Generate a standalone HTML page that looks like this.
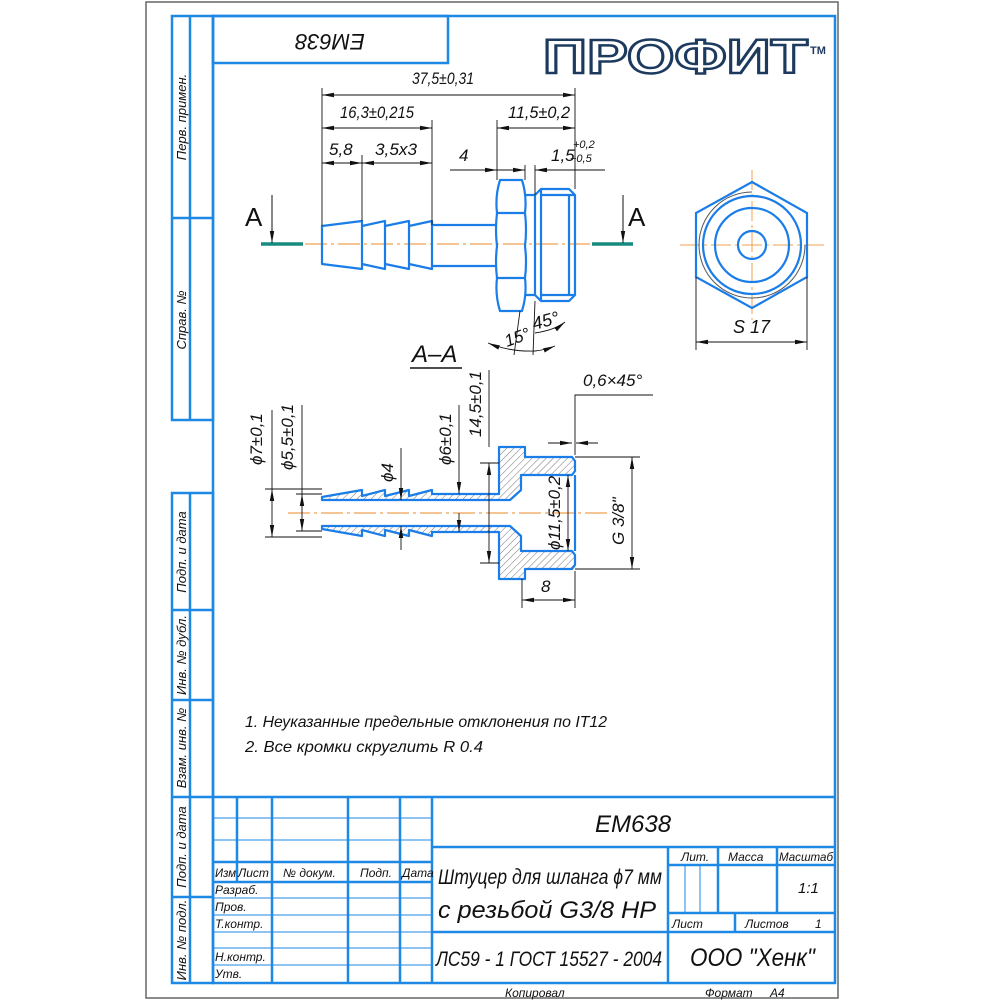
<!DOCTYPE html>
<html><head><meta charset="utf-8"><style>
html,body{margin:0;padding:0;background:#fff}
svg{display:block}
text{font-family:"Liberation Sans",sans-serif;font-style:italic;fill:#111}
</style></head><body>
<svg width="1000" height="1000" viewBox="0 0 1000 1000" xmlns="http://www.w3.org/2000/svg">
<defs>
<marker id="a" viewBox="0 0 12 6" refX="12" refY="3" markerWidth="12" markerHeight="6" orient="auto-start-reverse" markerUnits="userSpaceOnUse"><path d="M0,0.8 L12,3 L0,5.2z" fill="#111"/></marker>
<pattern id="h" patternUnits="userSpaceOnUse" width="5" height="5" patternTransform="rotate(45)"><line x1="0" y1="0" x2="0" y2="5" stroke="#666" stroke-width="0.9"/></pattern>
</defs>
<rect x="0" y="0" width="1000" height="1000" fill="#fff"/>
<rect x="146" y="2" width="692" height="996" fill="none" stroke="#666" stroke-width="1.5"/>
<g fill="none" stroke="#1e88e5" stroke-width="2.5">
<rect x="213" y="16" width="622" height="967"/>
<rect x="172" y="16" width="41" height="404"/>
<line x1="190" y1="16" x2="190" y2="420"/>
<line x1="172" y1="218" x2="213" y2="218"/>
<rect x="172" y="493" width="41" height="490"/>
<line x1="190" y1="493" x2="190" y2="983"/>
<line x1="172" y1="610" x2="213" y2="610"/>
<line x1="172" y1="700" x2="213" y2="700"/>
<line x1="172" y1="797" x2="213" y2="797"/>
<line x1="172" y1="897" x2="213" y2="897"/>
<rect x="213" y="16" width="235" height="47"/>
<line x1="213" y1="797" x2="835" y2="797"/>
<line x1="432" y1="797" x2="432" y2="983"/>
<line x1="237" y1="797" x2="237" y2="882"/>
<line x1="272" y1="797" x2="272" y2="983"/>
<line x1="348" y1="797" x2="348" y2="983"/>
<line x1="400" y1="797" x2="400" y2="983"/>
<line x1="432" y1="847" x2="835" y2="847"/>
<line x1="432" y1="932" x2="835" y2="932"/>
<line x1="668" y1="847" x2="668" y2="983"/>
<line x1="668" y1="865" x2="835" y2="865"/>
<line x1="668" y1="913" x2="835" y2="913"/>
<line x1="718" y1="847" x2="718" y2="913"/>
<line x1="777" y1="847" x2="777" y2="913"/>
<line x1="735" y1="913" x2="735" y2="932"/>
<line x1="213" y1="862" x2="432" y2="862"/>
<line x1="213" y1="882" x2="432" y2="882"/>
</g>
<g stroke="#1e88e5" stroke-width="1">
<line x1="685" y1="865" x2="685" y2="913"/><line x1="700" y1="865" x2="700" y2="913"/>
<line x1="213" y1="818" x2="432" y2="818"/><line x1="213" y1="840" x2="432" y2="840"/>
<line x1="213" y1="898" x2="432" y2="898"/><line x1="213" y1="915" x2="432" y2="915"/>
<line x1="213" y1="932" x2="432" y2="932"/><line x1="213" y1="948" x2="432" y2="948"/>
<line x1="213" y1="965" x2="432" y2="965"/>
</g>
<g font-size="13">
<text transform="translate(186,117) rotate(-90)" text-anchor="middle">Перв. примен.</text>
<text transform="translate(186,320) rotate(-90)" text-anchor="middle">Справ. №</text>
<text transform="translate(186,552) rotate(-90)" text-anchor="middle">Подп. и дата</text>
<text transform="translate(186,655) rotate(-90)" text-anchor="middle">Инв. № дубл.</text>
<text transform="translate(186,748) rotate(-90)" text-anchor="middle">Взам. инв. №</text>
<text transform="translate(186,847) rotate(-90)" text-anchor="middle">Подп. и дата</text>
<text transform="translate(186,940) rotate(-90)" text-anchor="middle">Инв. № подл.</text>
</g>
<text transform="translate(330,40) rotate(180)" text-anchor="middle" font-size="22" dominant-baseline="middle">EM638</text>
<text x="543" y="73" font-size="48" font-weight="bold" textLength="265" lengthAdjust="spacingAndGlyphs" style="fill:#fff;stroke:#1c3a5e;stroke-width:2.5;font-style:normal">ПРОФИТ</text>
<text x="810" y="54" font-size="11" font-weight="bold" style="font-style:normal;fill:#1c3a5e">TM</text>
<g font-size="12">
<text x="215" y="877" textLength="21" lengthAdjust="spacingAndGlyphs">Изм</text><text x="238" y="877">Лист</text><text x="283" y="877">№ докум.</text><text x="360" y="877">Подп.</text><text x="402" y="877">Дата</text>
<text x="215" y="894">Разраб.</text><text x="215" y="911">Пров.</text><text x="215" y="928">Т.контр.</text>
<text x="215" y="961">Н.контр.</text><text x="215" y="978">Утв.</text>
<text x="681" y="861">Лит.</text><text x="728" y="861">Масса</text><text x="779" y="861" textLength="54" lengthAdjust="spacingAndGlyphs">Масштаб</text>
<text x="672" y="928">Лист</text><text x="745" y="928">Листов</text><text x="815" y="928">1</text>
<text x="798" y="893" font-size="15">1:1</text>
<text x="505" y="997" font-size="12">Копировал</text><text x="705" y="997" font-size="12">Формат</text><text x="770" y="997" font-size="12">А4</text>
</g>
<text x="595" y="832" font-size="24">EM638</text>
<text x="438" y="884" font-size="21" textLength="224" lengthAdjust="spacingAndGlyphs">Штуцер для шланга ϕ7 мм</text>
<text x="438" y="918" font-size="24" textLength="218" lengthAdjust="spacingAndGlyphs">с резьбой G3/8 НР</text>
<text x="436" y="966" font-size="21" textLength="226" lengthAdjust="spacingAndGlyphs">ЛС59 - 1 ГОСТ 15527 - 2004</text>
<text x="690" y="966" font-size="25" textLength="125" lengthAdjust="spacingAndGlyphs">ООО "Хенк"</text>
<text x="245" y="727" font-size="16" textLength="362" lengthAdjust="spacingAndGlyphs">1. Неуказанные предельные отклонения по IT12</text>
<text x="245" y="752" font-size="16" textLength="238" lengthAdjust="spacingAndGlyphs">2. Все кромки скруглить R 0.4</text>

<line x1="305" y1="244" x2="590" y2="244" stroke="#f0a050" stroke-width="1.2" stroke-dasharray="22,4,3,4"/>
<line x1="261" y1="244" x2="303" y2="244" stroke="#168c80" stroke-width="3.5"/>
<line x1="592" y1="244" x2="633" y2="244" stroke="#168c80" stroke-width="3.5"/>
<line x1="272" y1="195" x2="272" y2="243" stroke="#111" stroke-width="1" marker-end="url(#a)"/>
<line x1="623" y1="195" x2="623" y2="243" stroke="#111" stroke-width="1" marker-end="url(#a)"/>
<text x="245" y="226" font-size="26" style="font-style:normal">A</text>
<text x="628" y="226" font-size="26" style="font-style:normal">A</text>
<g fill="none" stroke="#1a7de8" stroke-width="2.2" stroke-linejoin="round">
<path d="M322,226 L362,221 L362,269 L322,264 Z"/>
<path d="M362,226 L385,221 L385,269 L362,264"/>
<path d="M385,226 L409,221 L409,269 L385,264"/>
<path d="M409,226 L432,221 L432,269 L409,264"/>
<path d="M432,225 L497,225 M432,266 L497,266"/>
<path d="M500,180 L522,180 Q527,196 525,213 Q527,230 525,246 Q527,262 525,278 Q527,295 522,311 L500,311 Q495,295 497,278 Q495,262 497,246 Q495,230 497,213 Q495,196 500,180 Z"/>
<path d="M497,213 L525,213 M497,278 L525,278"/>
<path d="M525,195 L535,195 L535,295 L525,295"/>
<path d="M535,195 L541,189 L569,189 L575,195 L575,295 L569,301 L541,301 L535,295"/>
<path d="M541,189 L541,301 M569,195 L569,295 M541,195 L575,195 M541,295 L575,295"/>
</g>
<g stroke="#111" stroke-width="0.9" fill="none">
<path d="M322,88 V226 M362,155 V221 M432,120 V225 M497,120 V180 M575,88 V189 M525,165 V180 M535,165 V195"/>
<line x1="322" y1="95" x2="575" y2="95" marker-start="url(#a)" marker-end="url(#a)"/>
<line x1="322" y1="128" x2="432" y2="128" marker-start="url(#a)" marker-end="url(#a)"/>
<line x1="497" y1="128" x2="575" y2="128" marker-start="url(#a)" marker-end="url(#a)"/>
<line x1="322" y1="163" x2="362" y2="163" marker-start="url(#a)" marker-end="url(#a)"/>
<line x1="362" y1="163" x2="432" y2="163" marker-start="url(#a)" marker-end="url(#a)"/>
<line x1="450" y1="170" x2="497" y2="170" marker-end="url(#a)"/>
<line x1="497" y1="170" x2="525" y2="170" marker-end="url(#a)"/>
<line x1="605" y1="170" x2="535" y2="170" marker-end="url(#a)"/>
<path d="M520,311 L514,355 M535,301 L533,355"/>
<path d="M488,343 Q510,352 535,351" marker-start="url(#a)"/>
<path d="M535,351 Q545,350 555,346" marker-end="url(#a)"/>
<path d="M535,333 Q555,330 565,322" marker-end="url(#a)"/>
</g>
<g font-size="17">
<text x="412" y="84" textLength="62" lengthAdjust="spacingAndGlyphs">37,5±0,31</text>
<text x="340" y="118" textLength="74" lengthAdjust="spacingAndGlyphs">16,3±0,215</text>
<text x="508" y="118" textLength="62" lengthAdjust="spacingAndGlyphs">11,5±0,2</text>
<text x="329" y="155">5,8</text>
<text x="375" y="155" textLength="42" lengthAdjust="spacingAndGlyphs">3,5х3</text>
<text x="459" y="161">4</text>
<text x="551" y="161">1,5</text>
<text x="573" y="148" font-size="11">+0,2</text>
<text x="570" y="162" font-size="11">−0,5</text>
<text transform="translate(507,347) rotate(-20)">15°</text>
<text transform="translate(534,330) rotate(-15)" font-size="18">45°</text>
</g>
<line x1="680" y1="245" x2="825" y2="245" stroke="#f0a050" stroke-width="1" stroke-dasharray="20,4,3,4"/>
<line x1="752" y1="170" x2="752" y2="320" stroke="#f0a050" stroke-width="1" stroke-dasharray="20,4,3,4"/>
<g fill="none" stroke="#1a7de8" stroke-width="2.2">
<path d="M752,182 L807,213 L807,277 L752,308 L696,277 L696,213 Z"/>
<circle cx="752" cy="245" r="49"/>
<circle cx="752" cy="245" r="37"/>
<circle cx="752" cy="245" r="14"/>
</g>
<path d="M752,192 A53,53 0 1 0 805,245" fill="none" stroke="#555" stroke-width="1"/>
<g stroke="#111" stroke-width="0.9">
<path d="M696,277 V350 M807,277 V350"/>
<line x1="696" y1="342" x2="807" y2="342" marker-start="url(#a)" marker-end="url(#a)"/>
</g>
<text x="733" y="333" font-size="18">S 17</text>

<text x="412" y="362" font-size="24">A–A</text>
<line x1="410" y1="368" x2="462" y2="368" stroke="#111" stroke-width="1.5"/>
<line x1="288" y1="513" x2="610" y2="513" stroke="#f0a050" stroke-width="1.2" stroke-dasharray="22,4,3,4"/>
<g fill="url(#h)" stroke="#1a7de8" stroke-width="2.2" stroke-linejoin="round">
<path d="M322,500 L322,497 L362,490 L362,496 L385,490 L385,496 L409,490 L409,496 L432,490 L432,494 L499,494 L499,447 L525,447 L525,457 L572,457 L575,461 L575,471 L572,475 L521,475 L521,490 L510,500 Z"/>
<path d="M322,526 L322,529 L362,536 L362,530 L385,536 L385,530 L409,536 L409,530 L432,536 L432,532 L499,532 L499,579 L525,579 L525,569 L572,569 L575,565 L575,555 L572,551 L521,551 L521,536 L510,526 Z"/>
</g>
<g fill="none" stroke="#1a7de8" stroke-width="2.2"><path d="M575,475 V551"/></g>
<g stroke="#111" stroke-width="0.9" fill="none">
<path d="M265,489 H322 M265,537 H322 M296,494 H322 M296,531 H322"/>
<path d="M302,405 V494 M272,410 V489"/>
<line x1="272" y1="513" x2="272" y2="489" marker-end="url(#a)"/>
<line x1="272" y1="513" x2="272" y2="537" marker-end="url(#a)"/>
<line x1="302" y1="513" x2="302" y2="494" marker-end="url(#a)"/>
<line x1="302" y1="513" x2="302" y2="531" marker-end="url(#a)"/>
<line x1="401" y1="448" x2="401" y2="500" marker-end="url(#a)"/>
<line x1="401" y1="550" x2="401" y2="526" marker-end="url(#a)"/>
<line x1="459" y1="405" x2="459" y2="494" marker-end="url(#a)"/>
<line x1="459" y1="513" x2="459" y2="532" marker-end="url(#a)"/>
<path d="M489,370 V447 M480,463 H499 M480,563 H499"/>
<line x1="489" y1="513" x2="489" y2="463" marker-end="url(#a)"/>
<line x1="489" y1="513" x2="489" y2="563" marker-end="url(#a)"/>
<line x1="568" y1="513" x2="568" y2="475" marker-end="url(#a)"/>
<line x1="568" y1="513" x2="568" y2="551" marker-end="url(#a)"/>
<path d="M575,457 H640 M575,569 H640"/>
<line x1="632" y1="513" x2="632" y2="457" marker-end="url(#a)"/>
<line x1="632" y1="513" x2="632" y2="569" marker-end="url(#a)"/>
<path d="M522,579 V608 M575,571 V608"/>
<line x1="522" y1="600" x2="575" y2="600" marker-start="url(#a)" marker-end="url(#a)"/>
<path d="M575,455 V395 H653"/>
<line x1="548" y1="443" x2="572" y2="443" marker-end="url(#a)"/>
<line x1="598" y1="443" x2="576" y2="443" marker-end="url(#a)"/>
</g>
<g font-size="17">
<text transform="translate(262,465) rotate(-90)">ϕ7±0,1</text>
<text transform="translate(293,470) rotate(-90)">ϕ5,5±0,1</text>
<text transform="translate(393,482) rotate(-90)">ϕ4</text>
<text transform="translate(451,465) rotate(-90)">ϕ6±0,1</text>
<text transform="translate(481,437) rotate(-90)">14,5±0,1</text>
<text transform="translate(560,550) rotate(-90)">ϕ11,5±0,2</text>
<text transform="translate(624,545) rotate(-90)">G 3/8"</text>
<text x="541" y="592">8</text>
<text x="583" y="386">0,6×45°</text>
</g>
</svg>
</body></html>
